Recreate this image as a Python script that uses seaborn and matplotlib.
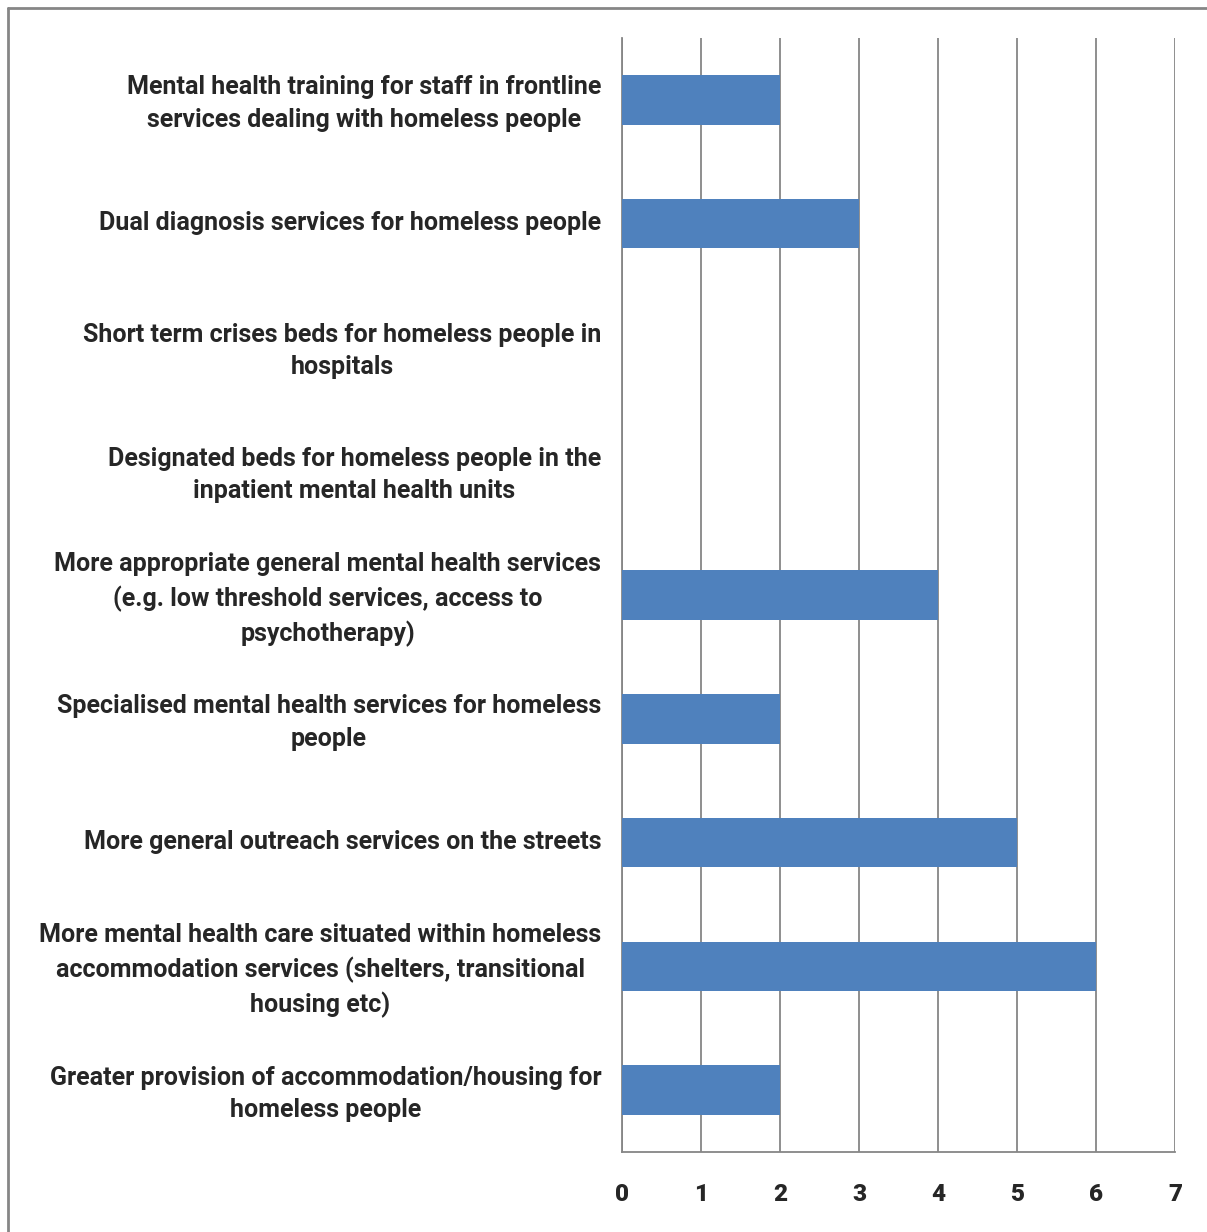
import matplotlib
matplotlib.use('Agg')
import matplotlib.pyplot as plt
import matplotlib.transforms as mtransforms
import seaborn as sns
import pandas as pd
from matplotlib.lines import Line2D

labels = [
    'Mental health training for staff in frontline\nservices dealing with homeless people',
    'Dual diagnosis services for homeless people',
    'Short term crises beds for homeless people in\nhospitals',
    'Designated beds for homeless people in the\ninpatient mental health units',
    'More appropriate general mental health services\n(e.g. low threshold services, access to\npsychotherapy)',
    'Specialised mental health services for homeless\npeople',
    'More general outreach services on the streets',
    'More mental health care situated within homeless\naccommodation services (shelters, transitional\nhousing etc)',
    'Greater provision of accommodation/housing for\nhomeless people',
]
values = [2, 3, 0, 0, 4, 2, 5, 6, 2]
x_ticks = [0, 1, 2, 3, 4, 5, 6, 7]

df = pd.DataFrame({'label': labels, 'value': values})

sns.set_style('white')
plt.rcParams['font.family'] = ['Roboto', 'DejaVu Sans']

fig = plt.figure(figsize=(12.07, 12.32), dpi=100)
ax = fig.add_axes([622 / 1207, 1 - 1152 / 1232, (1175 - 622) / 1207, (1152 - 38) / 1232])

sns.barplot(data=df, y='label', x='value', color='#4F81BD', width=0.4,
            orient='h', ax=ax, zorder=3, saturation=1, linewidth=0)

ax.set_xlim(0, 7)
ax.set_ylim(len(labels) - 0.5, -0.5)
ax.set_xticks(x_ticks)
ax.set_xticklabels([str(t) for t in x_ticks])
plt.setp(ax.get_xticklabels(), fontsize=17.5, fontweight='heavy')
ax.xaxis.grid(True, color='#868686', linewidth=1.3, zorder=0)
ax.set_axisbelow(True)

# category labels: right-aligned block, lines centered
ax.set_yticks(range(len(labels)))
ax.set_yticklabels(labels, fontsize=18, fontweight='bold', multialignment='center',
                   linespacing=1.45)
ax.tick_params(axis='y', which='major', length=0, pad=15)
# nudge the labels up a few pixels
shift = mtransforms.ScaledTranslation(0, 3 / 100, fig.dpi_scale_trans)
for t in ax.get_yticklabels():
    t.set_transform(t.get_transform() + shift)

# ticks at band edges on the y axis
ax.set_yticks([i - 0.5 for i in range(len(labels) + 1)], minor=True)
ax.tick_params(axis='y', which='minor', length=7, width=1.3, color='#868686', direction='out')
ax.tick_params(axis='x', length=7, width=1.3, color='#868686', direction='out', pad=15)

for s in ['top', 'right']:
    ax.spines[s].set_visible(False)
for s in ['left', 'bottom']:
    ax.spines[s].set_color('#868686')
    ax.spines[s].set_linewidth(1.3)

ax.set_xlabel('')
ax.set_ylabel('')

# outer frame (left and top edges visible)
fig.add_artist(Line2D([7.5 / 1207, 7.5 / 1207], [0, 1 - 8 / 1232], color='#868686', lw=2, transform=fig.transFigure))
fig.add_artist(Line2D([7.5 / 1207, 1], [1 - 8 / 1232, 1 - 8 / 1232], color='#868686', lw=2, transform=fig.transFigure))

fig.savefig('out.png', dpi=100)
